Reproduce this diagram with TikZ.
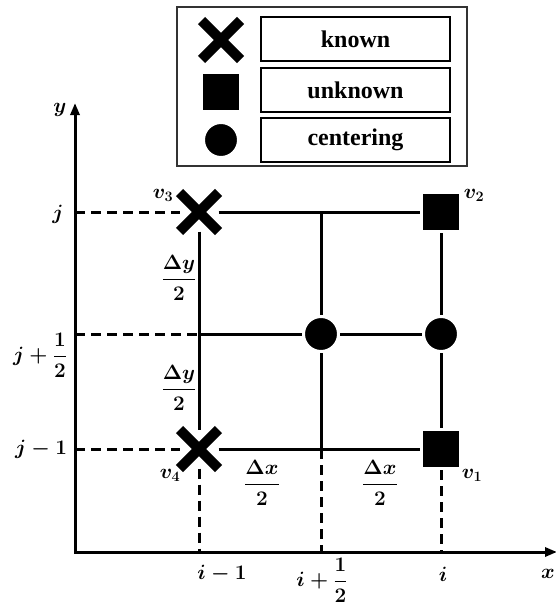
\documentclass[tikz,border=0pt]{standalone}
\usepackage{amsmath}
\usepackage{fontspec}
\setmainfont{Liberation Serif}
\usepackage{tikz}
\usetikzlibrary{arrows.meta,shapes.misc}

\tikzset{
    knownmark/.style={cross out, draw, line width=10pt, minimum size=29pt, inner sep=0pt},
    unknownmark/.style={rectangle, fill=black, draw=white, line width=3pt, minimum size=39pt, inner sep=0pt},
    centermark/.style={circle, fill=black, draw=white, line width=3pt, minimum size=35pt, inner sep=0pt},
    gridline/.style={line width=3pt},
    guide/.style={line width=3pt, dash pattern=on 10pt off 6pt},
    lab/.style={font=\fontsize{20}{22}\selectfont\boldmath},
    legendbox/.style={draw, line width=2pt, minimum width=189pt, minimum height=44pt, inner sep=0pt,
        font=\fontsize{24}{26}\selectfont\bfseries},
}

\begin{document}
\begin{tikzpicture}[x=1pt, y=-1pt]
    \useasboundingbox (0,0) rectangle (555,610);

    % legend
    \draw[line width=2pt, black!80] (177,7) rectangle (467,166);
    \node[knownmark]   (mk) at (221,40)  {};
    \node[unknownmark] (mu) at (221,92)  {};
    \node[centermark]  (mc) at (221,140) {};
    \node[legendbox] (lk) at (355.5,39.5) {known};
    \node[legendbox] (lu) at (355.5,90)   {unknown};
    \node[legendbox] (lc) at (355.5,140)  {centering};

    % axes
    \coordinate (o)    at (75,552);
    \coordinate (ytip) at (75,103);
    \coordinate (xtip) at (557,552);
    \draw[line width=3pt, {Triangle[length=12pt,width=9pt]}-{Triangle[length=12pt,width=9pt]}]
        (ytip) -- (o) -- (xtip);

    % cell
    \node[knownmark]   (v3) at (199,212) {};
    \node[knownmark]   (v4) at (199,449) {};
    \node[unknownmark] (v2) at (441,212) {};
    \node[unknownmark] (v1) at (441,449) {};
    \node[centermark]  (c1) at (321,334) {};
    \node[centermark]  (c2) at (441,334) {};
    \coordinate (t) at (321,212);
    \coordinate (b) at (321,449);
    \coordinate (l) at (199,334);

    \draw[gridline] (v3) -- (v2);
    \draw[gridline] (v4) -- (v1);
    \draw[gridline] (v3) -- (v4);
    \draw[gridline] (v2) -- (c2) -- (v1);
    \draw[gridline] (l) -- (c1) -- (c2);
    \draw[gridline] (t) -- (c1) -- (b);

    % guides to the axes
    \coordinate (yj) at (75,212);
    \coordinate (yh) at (75,334);
    \coordinate (yk) at (75,449);
    \coordinate (xa) at (199,552);
    \coordinate (xb) at (321,552);
    \coordinate (xc) at (441,552);
    \draw[guide] (yj) -- (v3);
    \draw[guide] (yh) -- (l);
    \draw[guide] (yk) -- (v4);
    \draw[guide] (v4) -- (xa);
    \draw[guide] (b)  -- (xb);
    \draw[guide] (v1) -- (xc);

    % labels
    \node[lab] (lv3) at (163,195) {$v_3$};
    \node[lab] (lv2) at (474,195) {$v_2$};
    \node[lab] (lv4) at (170,475) {$v_4$};
    \node[lab] (lv1) at (472,475) {$v_1$};
    \node[lab] (ly)  at (60,110)  {$y$};
    \node[lab] (lx)  at (548,574) {$x$};
    \node[lab] (lj)  at (58,214)  {$j$};
    \node[lab] (ljh) at (40,355)  {$j+\dfrac{1}{2}$};
    \node[lab] (ljm) at (41,449)  {$j-1$};
    \node[lab] (lim) at (222,574) {$i-1$};
    \node[lab] (lih) at (322,580) {$i+\dfrac{1}{2}$};
    \node[lab] (li)  at (443,574) {$i$};
    \node[lab] (dy1) at (179,278) {$\dfrac{\Delta y}{2}$};
    \node[lab] (dy2) at (179,388) {$\dfrac{\Delta y}{2}$};
    \node[lab] (dx1) at (262,483) {$\dfrac{\Delta x}{2}$};
    \node[lab] (dx2) at (380,483) {$\dfrac{\Delta x}{2}$};
\end{tikzpicture}
\end{document}
